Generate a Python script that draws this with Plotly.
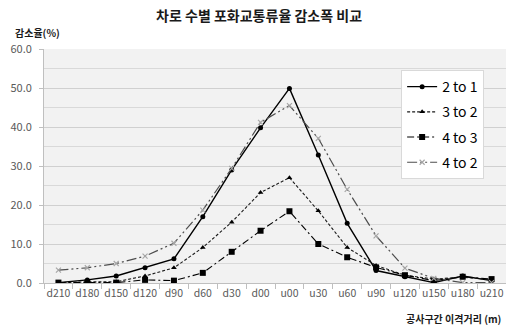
import plotly.graph_objects as go

categories = ["d210", "d180", "d150", "d120", "d90", "d60", "d30", "d00",
              "u00", "u30", "u60", "u90", "u120", "u150", "u180", "u210"]
s_2to1 = [0.1, 0.8, 1.8, 3.9, 6.2, 17.0, 29.0, 39.8, 49.9, 32.8, 15.3, 3.2, 1.6, 0.1, 1.8, 0.6]
s_3to2 = [0.1, 0.3, 0.3, 1.8, 3.9, 9.1, 15.6, 23.2, 27.0, 18.5, 9.1, 4.5, 2.0, 1.0, 1.5, 0.8]
s_4to3 = [0.1, 0.1, 0.1, 0.8, 0.6, 2.6, 8.0, 13.4, 18.4, 10.0, 6.6, 4.0, 2.0, 0.6, 1.6, 1.0]
s_4to2 = [3.3, 3.9, 5.0, 6.9, 10.2, 18.7, 29.4, 41.2, 45.5, 37.1, 24.0, 12.1, 3.8, 1.2, 0.1, 0.1]

FONT = "Noto Sans CJK KR, Malgun Gothic, sans-serif"

fig = go.Figure()
fig.add_trace(go.Scatter(x=categories, y=s_2to1, name="2 to 1", mode="lines+markers",
                         line=dict(color="#000000", width=1.4),
                         marker=dict(symbol="circle", size=5, color="#000000"),
                         legendgroup="a"))
fig.add_trace(go.Scatter(x=categories, y=s_3to2, name="3 to 2", mode="lines+markers",
                         line=dict(color="#1a1a1a", width=1.1, dash="3px,2px"),
                         marker=dict(symbol="triangle-up", size=5, color="#000000"),
                         legendgroup="b"))
fig.add_trace(go.Scatter(x=categories, y=s_4to3, name="4 to 3", mode="lines+markers",
                         line=dict(color="#000000", width=1.1, dash="7px,3px,2px,3px"),
                         marker=dict(symbol="square", size=6, color="#000000"),
                         legendgroup="c"))
fig.add_trace(go.Scatter(x=categories, y=s_4to2, name="4 to 2", mode="lines+markers",
                         line=dict(color="#4d4d4d", width=1.2, dash="10px,3px,2px,3px,2px,3px"),
                         marker=dict(symbol="x-thin", size=5, color="#a6a6a6",
                                     line=dict(color="#a6a6a6", width=1.2)),
                         legendgroup="d"))

fig.update_layout(
    width=506, height=329,
    margin=dict(l=44, r=0, t=49, b=46),
    paper_bgcolor="#ffffff",
    plot_bgcolor="#f2f2f2",
    font=dict(family=FONT, color="#595959", size=11),
    title=dict(text="<b>차로 수별 포화교통류율 감소폭 비교</b>",
               x=0.512, xanchor="center", y=0.952, yanchor="middle",
               font=dict(family=FONT, size=14, color="#1a1a1a")),
    showlegend=True,
    legend=dict(x=0.773, xanchor="left", y=0.91, yanchor="top",
                bgcolor="#ffffff", bordercolor="#d9d9d9", borderwidth=1,
                font=dict(family=FONT, size=14, color="#000000"),
                tracegroupgap=4, itemwidth=30),
    xaxis=dict(type="category", range=[-0.5, 15.5],
               showgrid=False, showline=True, linecolor="#bfbfbf",
               ticks="outside", tickson="boundaries", ticklen=5, tickcolor="#bfbfbf",
               tickangle=0, automargin=False,
               tickfont=dict(size=10.5, color="#595959"), zeroline=False),
    yaxis=dict(range=[0, 60], dtick=10, tickformat=".1f",
               showgrid=True, gridcolor="#d0d0d0", gridwidth=1,
               minor=dict(dtick=5, showgrid=True, gridcolor="#d9d9d9"),
               showline=True, linecolor="#bfbfbf",
               ticks="outside", ticklen=4, tickcolor="#bfbfbf",
               ticklabelstandoff=5, automargin=False,
               tickfont=dict(size=11, color="#595959"), zeroline=False),
    annotations=[
        dict(text="<b>감소율(%)</b>", xref="paper", yref="paper",
             x=-31/462, xanchor="left", y=(329-46-32)/234, yanchor="middle",
             showarrow=False, font=dict(family=FONT, size=10, color="#1a1a1a")),
        dict(text="<b>공사구간 이격거리 (m)</b>", xref="paper", yref="paper",
             x=(503-44)/462, xanchor="right", y=(329-46-318)/234, yanchor="middle",
             showarrow=False, font=dict(family=FONT, size=10, color="#1a1a1a")),
    ],
)

fig.write_html("out.html",
               config={"displayModeBar": False},
               post_script="document.body.style.margin='0';document.body.style.overflow='hidden';")
